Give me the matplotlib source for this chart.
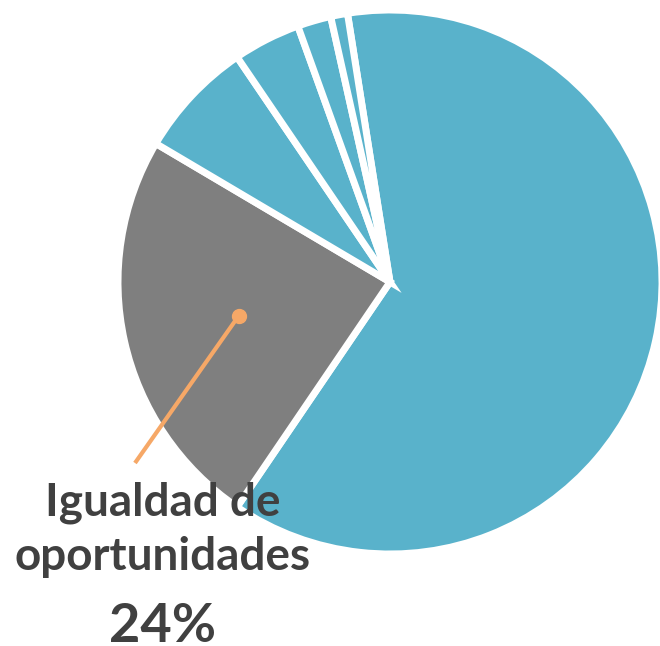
import numpy as np
import matplotlib.pyplot as plt

# slice shares (clockwise from the top), gray one is the labelled slice
shares = [62, 24, 7, 4, 2, 1]
colors = ['#59B2CB', '#7F7F7F', '#59B2CB', '#59B2CB', '#59B2CB', '#59B2CB']
label_lines = ['Igualdad de', 'oportunidades']
label_value = '24%'

W, H = 660, 646
fig = plt.figure(figsize=(W / 100, H / 100), dpi=100)
ax = fig.add_axes([0, 0, 1, 1])

cx, cy, r = 390, 364, 272
wedges, _ = ax.pie(shares, colors=colors, startangle=99, counterclock=False,
                   center=(cx, cy), radius=r,
                   wedgeprops=dict(edgecolor='white', linewidth=5))

# leader line from inside the gray slice
w = wedges[1]
mid = np.deg2rad((w.theta1 + w.theta2) / 2)
p0 = (cx + 0.57 * r * np.cos(mid), cy + 0.57 * r * np.sin(mid))
p1 = (cx - 255, cy - 181)
ax.plot([p0[0], p1[0]], [p0[1], p1[1]], color='#F6A867', lw=3, solid_capstyle='butt')
ax.plot(*p0, 'o', color='#F6A867', ms=10)

txt = dict(ha='center', va='baseline', fontweight='bold', color='#404040', family='Lato')
ax.text(163, 131, label_lines[0], fontsize=33, **txt)
ax.text(163, 76, label_lines[1], fontsize=33, **txt)
ax.text(163, 4, label_value, fontsize=39, **txt)

ax.set_xlim(0, W)
ax.set_ylim(0, H)
ax.set_aspect('equal')
ax.axis('off')

plt.savefig('out.png', dpi=100)
plt.close()
